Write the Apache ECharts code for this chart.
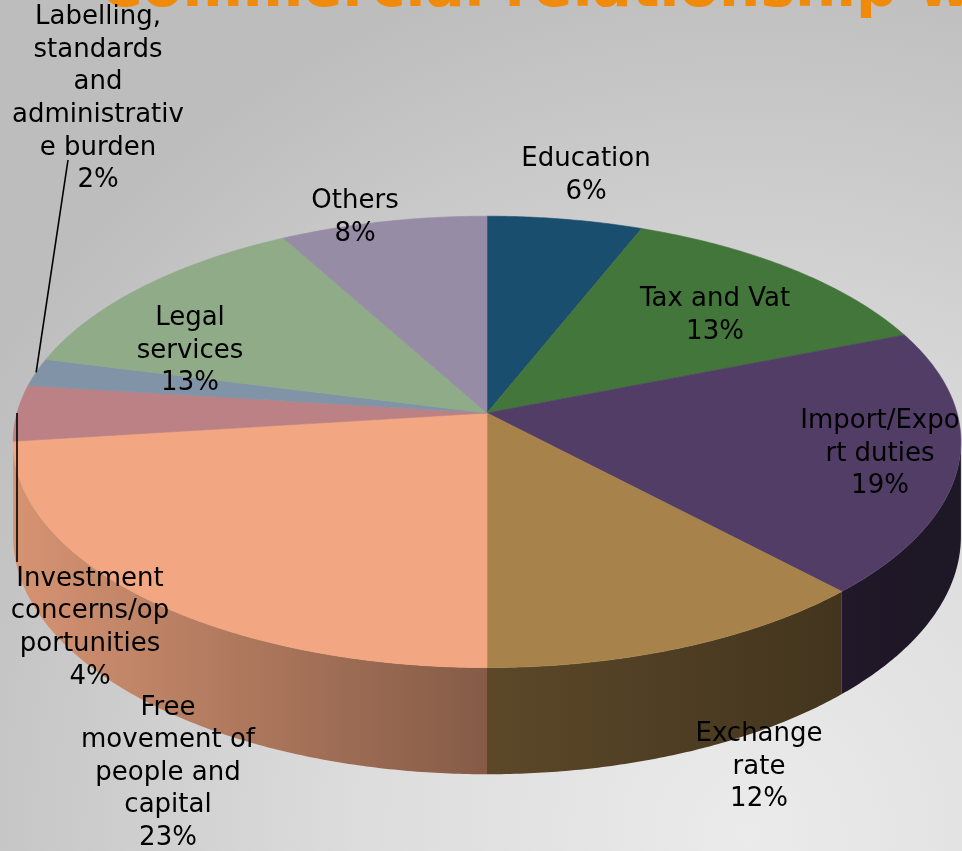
<!DOCTYPE html>
<html>
<head>
<meta charset="utf-8">
<script src="https://cdn.jsdelivr.net/npm/echarts@6/dist/echarts.min.js"></script>
<style>
  html, body { margin: 0; padding: 0; background: #d0d0d0; }
  #chart { width: 962px; height: 851px; }
</style>
</head>
<body>
<div id="chart"></div>
<script>
// slice data, clockwise from 12 o'clock
const categories = [
  'Education', 'Tax and Vat', 'Import/Export duties', 'Exchange rate',
  'Free movement of people and capital', 'Investment concerns/opportunities',
  'Labelling, standards and administrative burden', 'Legal services', 'Others'
];
const shares = [6, 13, 19, 12, 23, 4, 2, 13, 8];

// label text wrapped the way the slide wraps it
const labelLines = [
  'Education', 'Tax and Vat', 'Import/Expo\nrt duties', 'Exchange\nrate',
  'Free\nmovement of\npeople and\ncapital', 'Investment\nconcerns/op\nportunities',
  'Labelling,\nstandards\nand\nadministrativ\ne burden', 'Legal\nservices', 'Others'
];

// layout / style (not data)
const colors = ['#1a4e6e', '#43763a', '#523d66', '#a7834b', '#f2a681', '#bb8184', '#8193a7', '#8fab88', '#978ca5'];
const labelAt = [[586, 176], [715, 316], [880, 454], [759, 767], [168, 773], [90, 628], [98, 99], [190, 351], [355, 218]];
const leaderFrom = [null, null, null, null, null, [17, 562], [68, 160], null, null];
const pie = { cx: 487, cy: 413, rx: 470, ry: 222, persp: 0.128, depth: 93 };

const total = shares.reduce((a, b) => a + b, 0);
const startAt = [];
shares.reduce((acc, v, i) => { startAt[i] = acc; return acc + v; }, 0);

// tilted disc: angle t measured clockwise from the far side
function project(t, r, drop) {
  const X = r * Math.sin(t), Z = r * Math.cos(t);
  const d = 1 + pie.persp * Z;
  return [pie.cx + pie.rx * X / d, pie.cy - pie.ry * Z / d + (drop || 0) / d];
}

function shade(hex, f) {
  const n = parseInt(hex.slice(1), 16);
  const c = [(n >> 16) & 255, (n >> 8) & 255, n & 255].map(v => Math.round(v * f));
  return 'rgb(' + c.join(',') + ')';
}

function wallFactor(x) {
  const u = (x - pie.cx) / pie.rx;
  return u < 0 ? 0.55 - 0.33 * u : Math.max(0.37, 0.55 - 0.2 * u);
}

function arc(a0, a1, r, drop) {
  const pts = [];
  const n = Math.max(2, Math.ceil((a1 - a0) / (Math.PI / 360)));
  for (let k = 0; k <= n; k++) pts.push(project(a0 + (a1 - a0) * k / n, r, drop));
  return pts;
}

// the wall is seen between the two silhouette points
const edgeA = Math.PI / 2 + Math.asin(pie.persp);
const edgeB = Math.PI * 1.5 - Math.asin(pie.persp);

function renderSlice(params, api) {
  const i = params.dataIndex;
  const v = api.value(0);
  const a0 = startAt[i] / total * Math.PI * 2;
  const a1 = a0 + v / total * Math.PI * 2;
  const children = [];

  const w0 = Math.max(a0, edgeA), w1 = Math.min(a1, edgeB);
  if (w1 > w0) {
    const topEdge = arc(w0, w1, 1, 0);
    const bottomEdge = arc(w0, w1, 1, pie.depth).reverse();
    const xs = topEdge.map(p => p[0]);
    const xmin = Math.min(...xs), xmax = Math.max(...xs);
    const stops = [];
    for (let k = 0; k <= 8; k++) {
      const x = xmin + (xmax - xmin) * k / 8;
      stops.push({ offset: k / 8, color: shade(colors[i], wallFactor(x)) });
    }
    children.push({
      type: 'polygon', z2: 1,
      shape: { points: topEdge.concat(bottomEdge) },
      style: {
        fill: new echarts.graphic.LinearGradient(xmin, 0, xmax + 0.01, 0, stops, true),
        stroke: null
      }
    });
  }

  // top face
  children.push({
    type: 'polygon', z2: 10,
    shape: { points: [[pie.cx, pie.cy]].concat(arc(a0, a1, 1, 0)) },
    style: { fill: colors[i], stroke: colors[i], lineWidth: 0.6 }
  });

  const pct = Math.round(v / total * 100) + '%';
  const at = labelAt[i];
  if (leaderFrom[i]) {
    const mid = project((a0 + a1) / 2, 1, 0);
    children.push({
      type: 'line', z2: 30,
      shape: { x1: leaderFrom[i][0], y1: leaderFrom[i][1], x2: mid[0], y2: mid[1] },
      style: { stroke: '#000', lineWidth: 1.6 }
    });
  }
  children.push({
    type: 'text', z2: 40,
    style: {
      text: labelLines[i] + '\n' + pct,
      x: at[0], y: at[1],
      align: 'center', verticalAlign: 'middle',
      fontFamily: '"DejaVu Sans", Verdana, sans-serif',
      fontSize: 26, lineHeight: 32.6,
      fill: '#000'
    }
  });
  return { type: 'group', children: children };
}

const chart = echarts.init(document.getElementById('chart'), null, { renderer: 'canvas' });
chart.setOption({
  animation: false,
  backgroundColor: {
    type: 'radial', x: 0.78, y: 0.98, r: 1.05,
    colorStops: [
      { offset: 0, color: '#ebebeb' },
      { offset: 0.45, color: '#dcdcdc' },
      { offset: 1, color: '#bdbdbd' }
    ]
  },
  graphic: [{
    type: 'text', x: 100, y: -9, z: 0,
    style: {
      text: 'Commercial relationship with',
      fontFamily: '"DejaVu Sans", Verdana, sans-serif',
      fontWeight: 'bold', fontSize: 58,
      fill: '#f08a0b',
      verticalAlign: 'middle',
      shadowColor: 'rgba(0,0,0,0.45)', shadowOffsetX: 2, shadowOffsetY: 3, shadowBlur: 3
    }
  }],
  series: [{
    type: 'custom',
    name: 'Commercial relationship',
    coordinateSystem: 'none',
    data: shares.map((v, i) => ({ name: categories[i], value: [v] })),
    renderItem: renderSlice
  }]
});
</script>
</body>
</html>
